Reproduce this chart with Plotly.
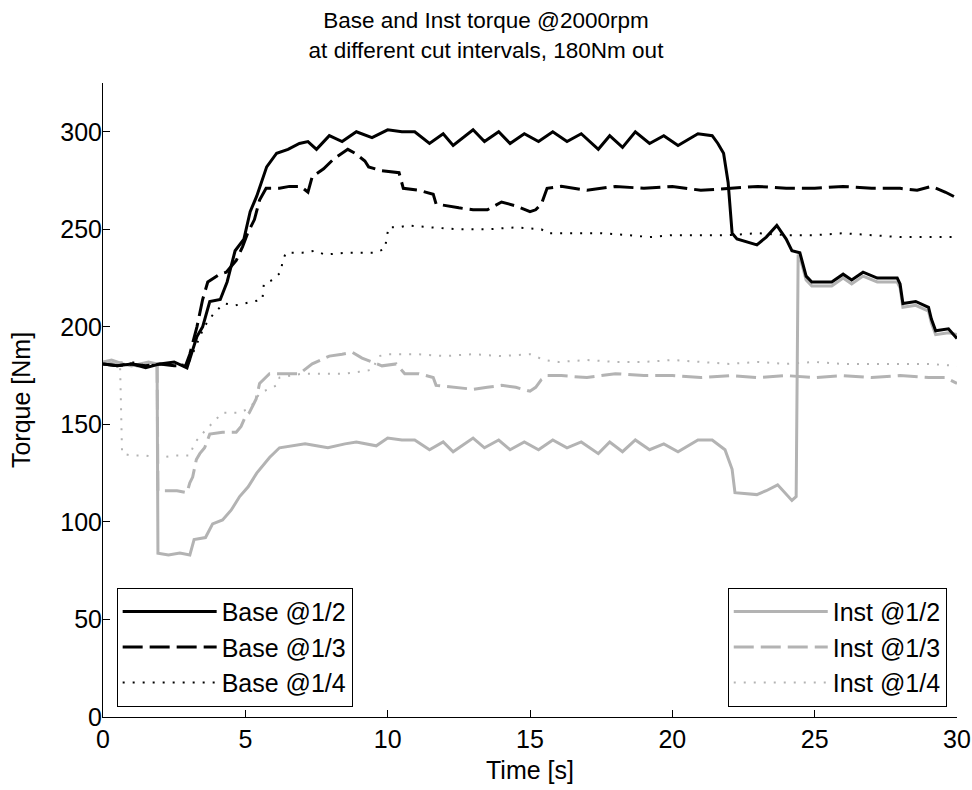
import plotly.graph_objects as go

# ---- data ----
base12_t = [0, 0.5, 1.0, 1.5, 2.0, 2.5, 2.95, 3.1, 3.3, 3.5, 3.75, 4.12, 4.36, 4.64, 4.95, 5.17, 5.4,
            5.75, 6.1, 6.5, 6.9, 7.2, 7.5, 7.95, 8.4, 8.9, 9.45, 10.0, 10.5, 10.95, 11.47, 11.95,
            12.3, 13.0, 13.4, 13.9, 14.3, 14.8, 15.3, 15.8, 16.3, 16.8, 17.4, 17.8, 18.25, 18.7,
            19.2, 19.7, 20.2, 20.9, 21.4, 21.6, 21.8, 21.96, 22.1, 22.27, 22.97, 23.3, 23.67, 24.0,
            24.2, 24.48, 24.7, 24.9, 25.6, 26.0, 26.3, 26.7, 27.2, 27.9, 28.0, 28.1, 28.55, 29.0,
            29.1, 29.25, 29.7, 30.0]
base12_v = [181, 180, 181, 179, 181, 182, 179, 186, 195, 200, 213, 214, 223, 239, 245, 259, 267,
            282, 289, 291, 294, 295, 291, 298, 295, 300, 297, 301, 300, 300, 294, 299,
            293, 301, 295, 300, 294, 299, 295, 300, 295, 299, 291, 298, 292, 300,
            294, 298, 293, 299, 298, 294, 289, 274, 248, 245, 242, 246, 252, 245,
            239, 238, 226, 223, 223, 227, 224, 228, 225, 225, 222, 212, 213, 210,
            204, 198, 199, 194]

base13_t = [0, 0.5, 1.0, 1.5, 2.0, 2.5, 2.9, 3.05, 3.3, 3.5, 3.68, 4.1, 4.33, 4.68, 4.9, 5.08,
            5.32, 5.5, 5.73, 6.2, 6.55, 6.95, 7.2, 7.35, 7.75, 8.1, 8.6, 8.85, 9.2, 9.33, 9.79,
            10.4, 10.55, 11.1, 11.6, 11.7, 12.5, 13.0, 13.5, 14.0, 14.5, 15.0, 15.2, 15.4, 15.6,
            16.1, 17.0, 18.0, 19.0, 20.0, 21.0, 22.0, 23.0, 24.0, 25.0, 26.0, 27.0, 28.0, 28.6,
            29.1, 29.6, 30.0]
base13_v = [181, 180, 181, 180, 181, 180, 180, 186, 200, 214, 223, 227, 228, 234, 241, 248,
            255, 265, 271, 271, 272, 272, 269, 277, 281, 286, 291, 289, 285, 282, 280,
            279, 271, 270, 268, 263, 261, 260, 260, 264, 262, 259, 260, 263, 271,
            272, 270, 272, 271, 272, 270, 271, 272, 271, 271, 272, 271, 271, 270,
            272, 269, 266]

base14_t = [0, 0.5, 1.0, 1.5, 2.0, 2.5, 3.0, 3.25, 3.55, 3.9, 4.25, 4.65, 5.0, 5.35, 5.6, 5.65,
            5.95, 6.25, 6.3, 6.42, 7.0, 7.45, 7.8, 8.5, 9.0, 9.55, 9.9, 9.97, 10.03, 10.4, 10.7,
            11.5, 12.5, 13.5, 14.5, 15.4, 15.6, 16.5, 17.5, 18.5, 19.2, 20.0, 21.0, 22.0, 23.0,
            24.0, 25.0, 26.0, 27.0, 28.0, 29.0, 30.0]
base14_v = [181, 180, 182, 180, 181, 180, 181, 190, 200, 207, 212, 211, 212, 213, 214, 222,
            224, 228, 233, 238, 238, 239, 237, 238, 238, 238, 240, 245, 251, 251, 252,
            251, 250, 250, 251, 250, 248, 248, 248, 247, 246, 247, 247, 247, 248,
            247, 247, 248, 247, 246, 246, 246]

inst12_t = [0, 0.3, 0.7, 1.0, 1.3, 1.6, 1.9, 1.93, 2.3, 2.7, 3.05, 3.2, 3.6, 3.85, 4.2, 4.5, 4.8,
            5.1, 5.4, 5.85, 6.2, 6.6, 7.1, 7.5, 7.9, 8.5, 8.9, 9.6, 10.0, 10.5, 10.95, 11.47,
            11.95, 12.3, 13.0, 13.4, 13.9, 14.3, 14.8, 15.3, 15.8, 16.3, 16.8, 17.4, 17.8, 18.25,
            18.7, 19.2, 19.7, 20.2, 20.9, 21.4, 21.85, 22.1, 22.2, 22.97, 23.3, 23.7, 24.2, 24.35,
            24.42, 24.48, 24.7, 24.9, 25.6, 26.0, 26.3, 26.7, 27.2, 27.9, 28.0, 28.1, 28.55, 29.0,
            29.1, 29.25, 29.7, 30.0]
inst12_v = [182, 183, 181, 180, 181, 182, 181, 84, 83, 84, 83, 91, 92, 99, 101, 106, 113,
            118, 125, 133, 138, 139, 140, 139, 138, 140, 141, 139, 143, 142, 142, 137,
            141, 136, 143, 138, 142, 137, 141, 137, 142, 138, 141, 135, 141, 136,
            142, 137, 140, 136, 142, 142, 137, 127, 115, 114, 116, 119, 111, 113,
            237, 236, 224, 221, 221, 225, 222, 226, 223, 223, 220, 210, 211, 208,
            202, 196, 197, 196]

inst13_t = [0, 0.4, 0.8, 1.2, 1.6, 1.9, 1.93, 2.6, 2.95, 3.05, 3.15, 3.28, 3.4, 3.57, 3.75,
            4.2, 4.68, 4.85, 5.0, 5.14, 5.38, 5.5, 5.85, 6.4, 6.9, 7.35, 7.95, 8.4, 8.75, 9.1,
            9.45, 9.8, 10.3, 10.6, 11.1, 11.6, 11.7, 12.5, 13.0, 13.5, 14.0, 14.5, 15.0, 15.2,
            15.4, 15.6, 16.1, 17.0, 18.0, 19.0, 20.0, 21.0, 22.0, 23.0, 24.0, 25.0, 26.0, 27.0,
            28.0, 29.0, 29.6, 30.0]
inst13_v = [182, 181, 182, 180, 181, 181, 116, 116, 115, 120, 123, 132, 135, 138, 145,
            146, 146, 149, 154, 156, 163, 171, 176, 176, 176, 181, 185, 186, 187, 184,
            182, 180, 181, 176, 176, 174, 170, 169, 168, 169, 170, 169, 167, 169,
            173, 175, 175, 174, 176, 175, 175, 174, 175, 174, 175, 174, 175, 174,
            175, 174, 174, 171]

inst14_t = [0, 0.3, 0.6, 0.67, 1.0, 1.5, 2.0, 2.5, 3.05, 3.15, 3.3, 3.6, 3.8, 4.2, 4.5, 4.8,
            5.1, 5.3, 5.5, 5.8, 6.1, 6.2, 6.54, 7.0, 7.5, 8.0, 8.5, 9.0, 9.45, 9.7, 10.0, 10.5,
            11.0, 12.0, 13.0, 14.0, 15.0, 15.5, 16.0, 17.0, 18.0, 19.0, 20.0, 21.0, 22.0, 23.0,
            24.0, 25.0, 26.0, 27.0, 28.0, 29.0, 30.0]
inst14_v = [182, 181, 180, 135, 134, 134, 133, 134, 134, 138, 142, 147, 150, 156, 156, 156,
            158, 161, 166, 168, 170, 174, 175, 176, 176, 176, 176, 177, 178, 185, 186, 186,
            186, 185, 186, 185, 186, 183, 182, 183, 182, 182, 183, 182, 181, 182,
            181, 182, 181, 181, 181, 181, 180]

x_ticks = [0, 5, 10, 15, 20, 25, 30]
y_ticks = [0, 50, 100, 150, 200, 250, 300]

BLACK = "#000000"
GRAY = "#b3b3b3"
FONT = "Liberation Sans, Arial, sans-serif"

series = [
    ("Inst @1/4", inst14_t, inst14_v, GRAY, "2px,8px", 2, "legend2"),
    ("Inst @1/3", inst13_t, inst13_v, GRAY, "20px,7px", 3, "legend2"),
    ("Inst @1/2", inst12_t, inst12_v, GRAY, "solid", 3, "legend2"),
    ("Base @1/4", base14_t, base14_v, BLACK, "2px,8px", 2, "legend"),
    ("Base @1/3", base13_t, base13_v, BLACK, "20px,7px", 3, "legend"),
    ("Base @1/2", base12_t, base12_v, BLACK, "solid", 3, "legend"),
]
order = {"Base @1/2": 1, "Base @1/3": 2, "Base @1/4": 3,
         "Inst @1/2": 1, "Inst @1/3": 2, "Inst @1/4": 3}

fig = go.Figure()
for name, t, v, col, dash, w, leg in series:
    fig.add_trace(go.Scatter(
        x=t, y=v, mode="lines", name=name,
        line=dict(color=col, dash=dash, width=w),
        legend=leg, legendgroup=name, legendrank=order[name],
    ))

legend_common = dict(
    bgcolor="white", bordercolor="black", borderwidth=1,
    font=dict(family=FONT, size=25, color="black"),
    itemwidth=94, tracegroupgap=8, traceorder="normal",
    yanchor="bottom", y=0.016,
)

fig.update_layout(
    width=972, height=790,
    margin=dict(l=103, r=15, t=83, b=73, autoexpand=False),
    paper_bgcolor="white", plot_bgcolor="white",
    font=dict(family=FONT, size=25, color="black"),
    title=dict(
        text="Base and Inst torque @2000rpm<br>at different cut intervals, 180Nm out",
        x=0.5, xref="container", xanchor="center",
        y=0.964, yref="container", yanchor="top",
        font=dict(family=FONT, size=22.5, color="black"),
    ),
    showlegend=True,
    legend=dict(x=0.016, xanchor="left", **legend_common),
    legend2=dict(x=0.988, xanchor="right", **legend_common),
    xaxis=dict(
        range=[0, 30], tickvals=x_ticks, ticks="inside", ticklen=7, tickwidth=1,
        tickcolor="black", showline=True, linecolor="black", linewidth=1,
        showgrid=False, zeroline=False, mirror=False, automargin=False,
        title=dict(text="Time [s]", standoff=9, font=dict(size=25)),
        tickfont=dict(size=25),
    ),
    yaxis=dict(
        range=[0, 325], tickvals=y_ticks, ticks="inside", ticklen=7, tickwidth=1,
        tickcolor="black", showline=True, linecolor="black", linewidth=1,
        showgrid=False, zeroline=False, mirror=False, automargin=False,
        title=dict(text="Torque [Nm]", standoff=22, font=dict(size=25)),
        tickfont=dict(size=25), ticklabelstandoff=-5,
    ),
)

fig.write_html("out.html")
